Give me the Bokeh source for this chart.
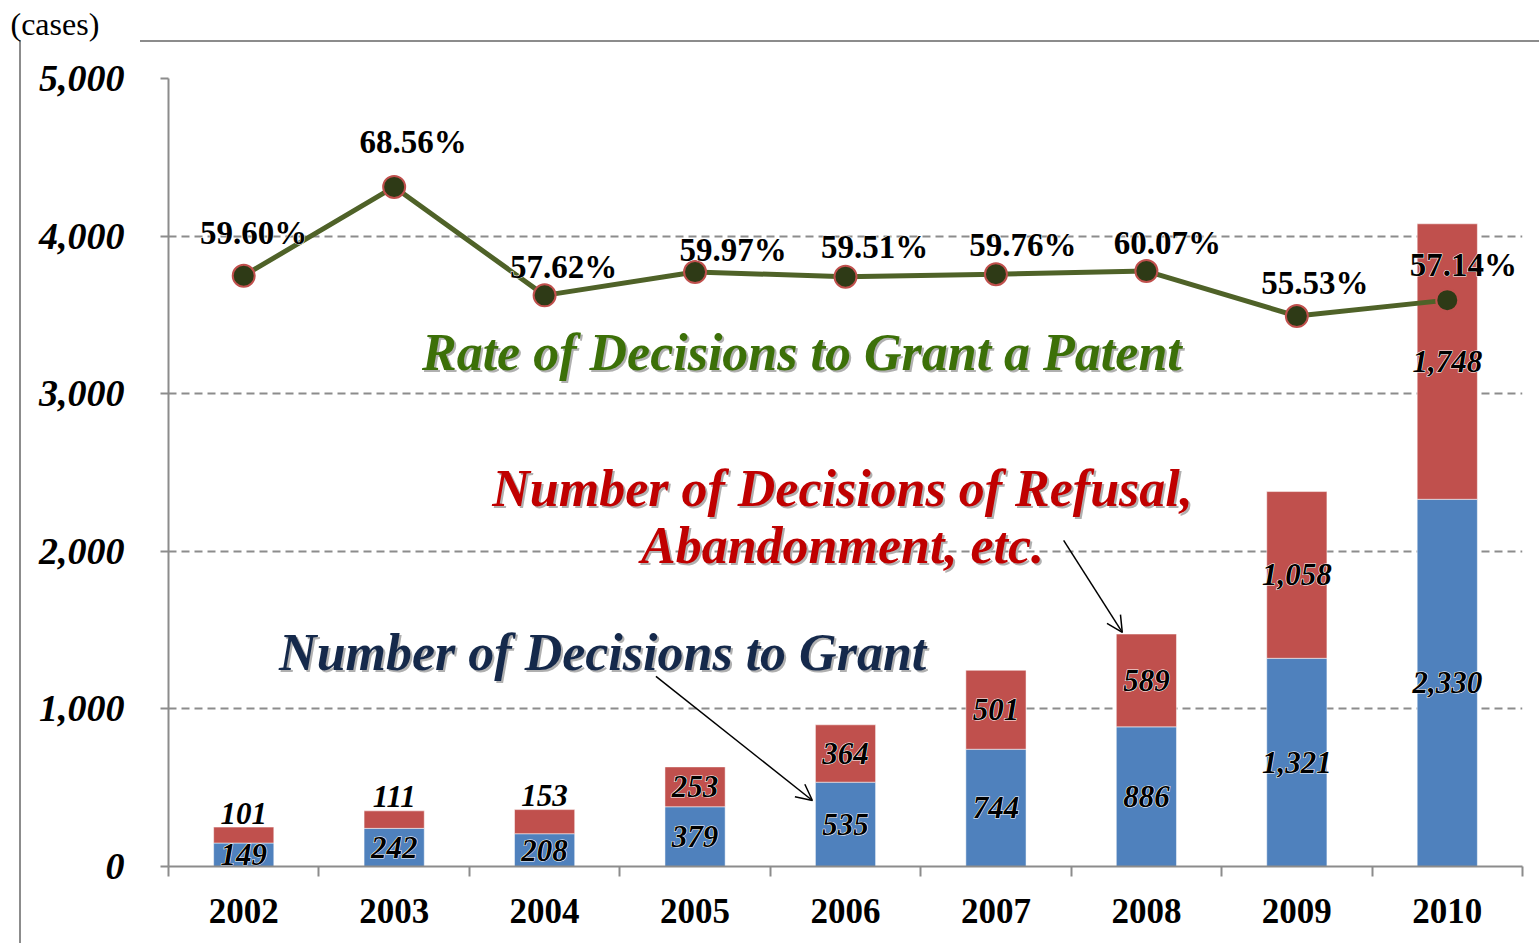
from bokeh.plotting import figure
from bokeh.models import (ColumnDataSource, Range1d, FixedTicker, NumeralTickFormatter,
                          Arrow, OpenHead, LinearAxis, Title)
from bokeh.core.properties import value
from bokeh.embed import file_html
from bokeh.resources import INLINE

years = ["2002", "2003", "2004", "2005", "2006", "2007", "2008", "2009", "2010"]
grants = [149, 242, 208, 379, 535, 744, 886, 1321, 2330]
refusals = [101, 111, 153, 253, 364, 501, 589, 1058, 1748]
rates = [59.60, 68.56, 57.62, 59.97, 59.51, 59.76, 60.07, 55.53, 57.14]
y_ticks = [0, 1000, 2000, 3000, 4000, 5000]

# label offsets in pixels (layout only)
pct_dx = [10, 19, 19, 38, 29, 27, 21, 18, 16]
pct_dy = [-43, -45, -28, -22, -30, -29, -28, -33, -35]

FONT = "Liberation Serif"
BLUE = "#4F81BD"
RED = "#C0504D"
GREEN_LINE = "#4F6228"
GRID = "#8C8C8C"

xs = [i + 0.5 for i in range(len(years))]

p = figure(width=1539, height=943, output_backend="svg", toolbar_location=None,
           x_range=Range1d(0, 9), y_range=Range1d(0, 5000),
           min_border_left=168, min_border_right=17, min_border_top=78, min_border_bottom=77)
p.outline_line_color = None
p.border_fill_color = None
p.background_fill_color = "white"
p.styles = {
    "background": ("linear-gradient(#8C8C8C, #8C8C8C) 19px 40px / 2px 910px no-repeat, "
                   "linear-gradient(#8C8C8C, #8C8C8C) 140px 40px / 1400px 2px no-repeat, white"),
}
p.extra_y_ranges = {"pct": Range1d(0, 79.5)}

# invisible spacer between the frame and the "(cases)" title
spacer = LinearAxis(ticker=FixedTicker(ticks=[4.5]), major_label_overrides={4.5: ""},
                    major_tick_out=37, major_tick_in=0,
                    minor_tick_out=0, minor_tick_in=0, axis_line_color=None,
                    major_tick_line_color=None, minor_tick_line_color=None,
                    major_label_standoff=0)
p.add_layout(spacer, "above")
p.add_layout(Title(text="(cases)", align="left", offset=-158, standoff=0,
                   text_font=FONT, text_font_style="normal", text_font_size="32px",
                   text_color="black"), "above")

src = ColumnDataSource(dict(x=xs, grant=grants, refusal=refusals))
p.vbar_stack(["grant", "refusal"], x="x", width=0.4, color=[BLUE, RED], source=src,
             line_color="white", line_width=0.5)

# axes
yax = p.yaxis[0]
yax.ticker = FixedTicker(ticks=y_ticks)
yax.formatter = NumeralTickFormatter(format="0,0")
yax.major_tick_out = 8
yax.major_tick_in = 0
yax.minor_tick_out = 0
yax.minor_tick_in = 0
yax.axis_line_color = GRID
yax.axis_line_width = 2
yax.major_tick_line_color = GRID
yax.major_tick_line_width = 2
yax.major_label_standoff = 36
yax.major_label_text_font = FONT
yax.major_label_text_font_style = "bold italic"
yax.major_label_text_font_size = "38px"
yax.major_label_text_color = "black"

xax = p.below[0]
xax.ticker = FixedTicker(ticks=xs, minor_ticks=list(range(len(years) + 1)))
xax.major_label_overrides = {x: y for x, y in zip(xs, years)}
xax.major_tick_out = 0
xax.major_tick_in = 0
xax.minor_tick_out = 10
xax.minor_tick_in = 0
xax.minor_tick_line_color = GRID
xax.minor_tick_line_width = 2
xax.axis_line_color = GRID
xax.axis_line_width = 2
xax.major_label_standoff = 22
xax.major_label_text_font = FONT
xax.major_label_text_font_style = "bold"
xax.major_label_text_font_size = "35px"
xax.major_label_text_color = "black"

p.xgrid.grid_line_color = None
p.ygrid.ticker = FixedTicker(ticks=y_ticks)
p.ygrid.grid_line_color = GRID
p.ygrid.grid_line_width = 2
p.ygrid.grid_line_dash = "8 5"
p.ygrid.level = "underlay"

# rate line
rsrc = ColumnDataSource(dict(x=xs, rate=rates, lab=["%.2f%%" % r for r in rates], dx=pct_dx, dy=pct_dy))
p.line("x", "rate", source=rsrc, y_range_name="pct", line_color=GREEN_LINE, line_width=5)
p.scatter("x", "rate", source=rsrc, y_range_name="pct", size=22, fill_color="#2E3A16",
          line_color=RED, line_width=2)

# bar value labels
g_y = [g / 2 for g in grants]
r_y, r_off = [], []
for g, r in zip(grants, refusals):
    if r < 200:
        r_y.append(g + r)
        r_off.append(-14)
    else:
        r_y.append(g + r / 2)
        r_off.append(0)
lsrc = ColumnDataSource(dict(x=xs, gy=g_y, ry=r_y, roff=r_off,
                             gl=["{:,}".format(v) for v in grants],
                             rl=["{:,}".format(v) for v in refusals]))


def outlined(xcol, ycol, tcol, source, style, size, **kw):
    base = dict(text_font=value(FONT), text_font_style=style, text_font_size=size,
                text_align="center", text_baseline="middle")
    p.text(xcol, ycol, text=tcol, source=source, text_color="white",
           text_outline_color="white", **base, **kw)
    p.text(xcol, ycol, text=tcol, source=source, text_color="black", **base, **kw)


outlined("x", "gy", "gl", lsrc, "bold italic", "31px")
outlined("x", "ry", "rl", lsrc, "bold italic", "31px", y_offset="roff")
outlined("x", "rate", "lab", rsrc, "bold", "33px", y_range_name="pct", x_offset="dx", y_offset="dy")


# annotation texts with shadow
def ann(x, y, txt, color):
    for dx, dy, c in [(2, 2, "#B0B0B0"), (0, 0, color)]:
        p.text(x=[x], y=[y], text=[txt], x_offset=dx, y_offset=dy,
               text_font=value(FONT), text_font_style="bold italic", text_font_size="52px",
               text_align="center", text_baseline="middle", text_color=c)


ann(4.21, 3261, "Rate of Decisions to Grant a Patent", "#3C7008")
ann(4.48, 2398, "Number of Decisions of Refusal,", "#C00000")
ann(4.48, 2037, "Abandonment, etc.", "#C00000")
ann(2.886, 1358, "Number of Decisions to Grant", "#15294B")

p.add_layout(Arrow(end=OpenHead(size=16, line_color="black", line_width=1.5),
                   x_start=3.24, y_start=1206, x_end=4.28, y_end=419, line_width=1.5))
p.add_layout(Arrow(end=OpenHead(size=16, line_color="black", line_width=1.5),
                   x_start=5.95, y_start=2069, x_end=6.34, y_end=1485, line_width=1.5))

open("out.html", "w").write(file_html(p, INLINE))
